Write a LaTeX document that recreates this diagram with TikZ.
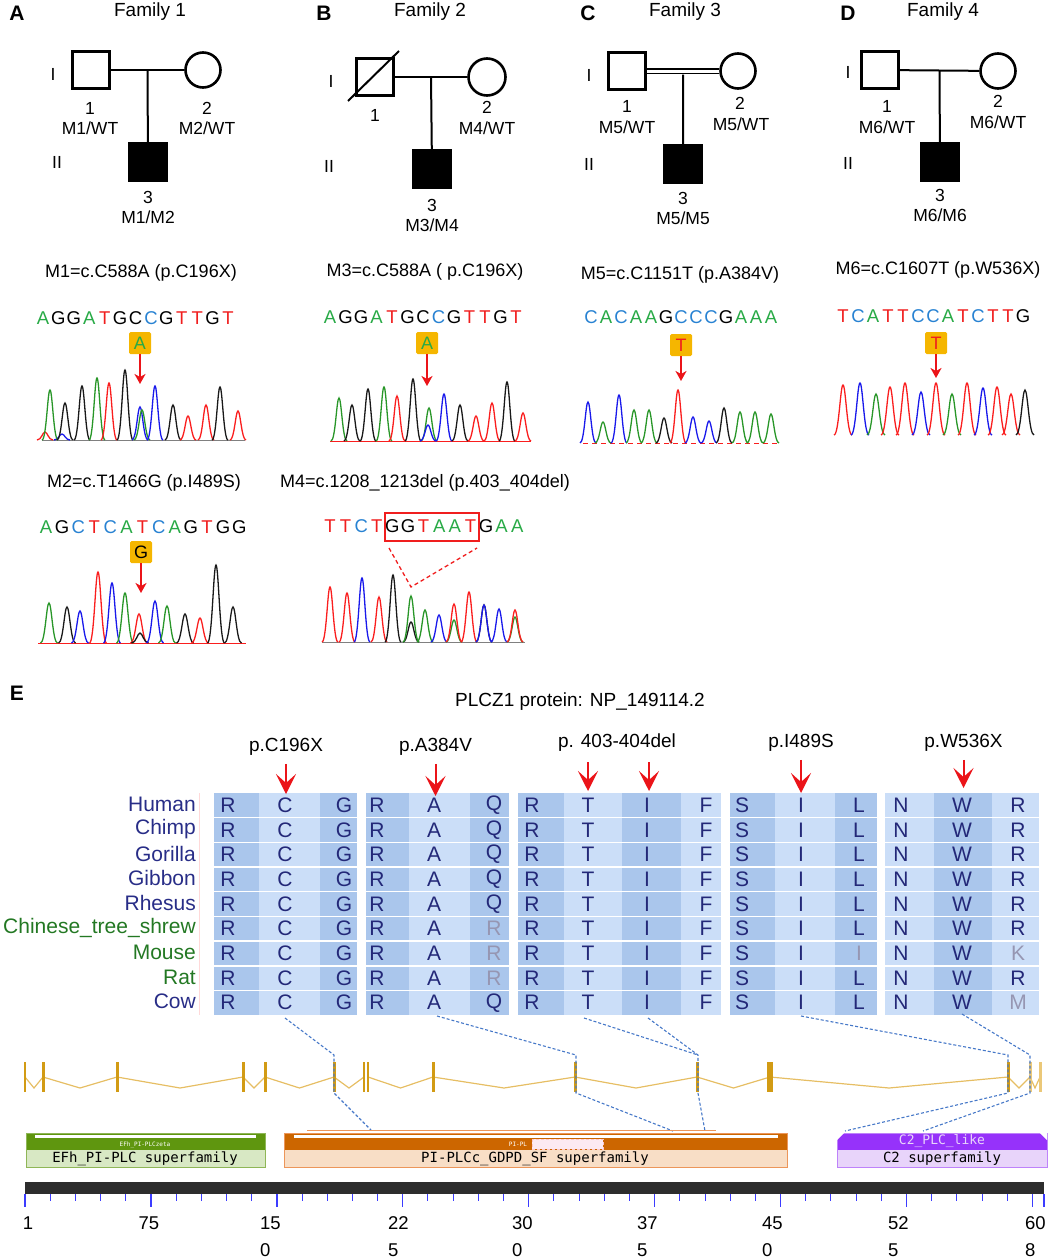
\documentclass[tikz,border=0pt]{standalone}
\usepackage{fontspec}
\setmainfont{Liberation Sans}
\newfontfamily\domfont{DejaVu Sans Mono}
\usetikzlibrary{arrows.meta, calc}

\definecolor{sgr}{RGB}{40,170,70}
\definecolor{sbl}{RGB}{40,130,210}
\definecolor{srd}{RGB}{240,30,30}
\definecolor{kgr}{RGB}{40,150,40}
\definecolor{kbl}{RGB}{25,25,235}
\definecolor{krd}{RGB}{250,30,30}
\definecolor{kbk}{RGB}{25,25,25}
\definecolor{mutbg}{RGB}{245,182,0}
\definecolor{arred}{RGB}{235,20,25}
\definecolor{colDk}{RGB}{170,198,236}
\definecolor{colLt}{RGB}{203,222,248}
\definecolor{aanavy}{RGB}{35,40,120}
\definecolor{spnavy}{RGB}{40,45,135}
\definecolor{spgreen}{RGB}{35,120,35}
\definecolor{aagrey}{RGB}{150,150,178}
\definecolor{linkbl}{RGB}{70,120,200}
\definecolor{exgold}{RGB}{210,155,20}
\definecolor{exlight}{RGB}{235,200,120}
\definecolor{intgold}{RGB}{230,190,100}
\definecolor{efhtop}{RGB}{95,150,15}
\definecolor{efhbot}{RGB}{216,232,196}
\definecolor{plctop}{RGB}{204,102,0}
\definecolor{plcbot}{RGB}{248,222,198}
\definecolor{plcedge}{RGB}{236,150,90}
\definecolor{c2top}{RGB}{150,50,250}
\definecolor{c2bot}{RGB}{232,212,250}
\definecolor{c2edge}{RGB}{190,130,250}
\definecolor{barbk}{RGB}{45,45,45}
\definecolor{tickbl}{RGB}{60,60,255}
\definecolor{pinkbox}{RGB}{252,234,242}

\newcommand\mism{\color{aagrey}}
\def\pkw{8}
% one trace peak: x, height, colour, baseline
\newcommand\pk[4]{%
  \draw[#3, line width=1.3pt] ({#1-\pkw},#4) .. controls ({#1-0.45*\pkw},#4) and ({#1-0.3*\pkw},{#4-#2}) .. ({#1},{#4-#2})
    .. controls ({#1+0.3*\pkw},{#4-#2}) and ({#1+0.45*\pkw},#4) .. ({#1+\pkw},#4);}

\begin{document}
\begin{tikzpicture}[x=1pt, y=-1pt,
    male/.style={draw, line width=2.6pt, minimum width=37pt, minimum height=37pt, inner sep=0pt},
    female/.style={draw, circle, line width=2.6pt, minimum size=35pt, inner sep=0pt},
    patient/.style={fill=black, minimum size=40pt, inner sep=0pt},
    mline/.style={line width=2pt},
    pan/.style={font=\fontsize{21}{24}\selectfont\bfseries, inner sep=0pt},
    fam/.style={font=\fontsize{19}{22}\selectfont, inner sep=0pt},
    pl/.style={font=\fontsize{17.5}{20}\selectfont, inner sep=0pt},
    mt/.style={font=\fontsize{18}{21}\selectfont, inner sep=0pt},
    sq/.style={font=\fontsize{18.5}{21}\selectfont, inner sep=0pt},
    mutbox/.style={fill=mutbg, rounded corners=1.5pt, minimum size=22pt, inner sep=0pt, font=\fontsize{18}{20}\selectfont},
    smarr/.style={arred, line width=2pt, -{Stealth[length=10pt, width=11pt, inset=3pt]}},
    bigarr/.style={arred, line width=2pt, -{Stealth[length=20pt, width=20pt, inset=9pt]}},
    aa/.style={font=\fontsize{21}{24}\selectfont, text=aanavy, inner sep=0pt},
    spec/.style={font=\fontsize{21}{24}\selectfont, inner sep=0pt, anchor=east},
    lnk/.style={linkbl, line width=1.1pt, dash pattern=on 3pt off 2pt},
    intron/.style={intgold, line width=1.2pt},
    domtxt/.style={font=\domfont\fontsize{14}{16}\selectfont, inner sep=0pt},
    domtiny/.style={font=\domfont\fontsize{6}{7}\selectfont, text=white, inner sep=0pt},
    axl/.style={font=\fontsize{18.5}{27}\selectfont, inner sep=0pt, align=left},
  ]
  \useasboundingbox (0,0) rectangle (1052,1258);

  % ---------- pedigrees
  \node[pan] (pA) at (17,13) {A};
  \node[fam] (tA) at (150,12) {Family 1};
  \node[male] (f1a) at (91,70) {};
  \node[female] (f1b) at (203,70) {};
  \node[patient] (f1c) at (148,162) {};
  \coordinate (f1m) at ($(f1a.east)!0.5!(f1b.west)$);
  \draw[mline] (f1a) -- (f1b);
  \draw[mline] (f1m) -- (f1c);
  \node[pl] (g1A) at (53,74) {I};
  \node[pl] (g2A) at (57,162) {II};
  \node[pl] (n1A) at (90,108) {1};
  \node[pl] (m1A) at (90,128) {M1/WT};
  \node[pl] (n2A) at (207,108) {2};
  \node[pl] (m2A) at (207,128) {M2/WT};
  \node[pl] (n3A) at (148,197) {3};
  \node[pl] (m3A) at (148,217) {M1/M2};

  \node[pan] (pB) at (324,13) {B};
  \node[fam] (tB) at (430,12) {Family 2};
  \node[male] (f2a) at (375,77) {};
  \node[female, minimum size=37pt] (f2b) at (487,77) {};
  \node[patient] (f2c) at (432,169) {};
  \coordinate (f2m) at ($(f2a.east)!0.5!(f2b.west)$);
  \draw[mline] (f2a) -- (f2b);
  \draw[mline] (f2m) -- (f2c);
  \draw[mline] ($(f2a)+(-27,24)$) -- ($(f2a)+(24,-26)$);
  \node[pl] (g1B) at (331,81) {I};
  \node[pl] (g2B) at (329,166) {II};
  \node[pl] (n1B) at (375,115) {1};
  \node[pl] (n2B) at (487,107) {2};
  \node[pl] (m2B) at (487,128) {M4/WT};
  \node[pl] (n3B) at (432,205) {3};
  \node[pl] (m3B) at (432,225) {M3/M4};

  \node[pan] (pC) at (588,13) {C};
  \node[fam] (tC) at (685,12) {Family 3};
  \node[male] (f3a) at (627,71) {};
  \node[female] (f3b) at (738,71) {};
  \node[patient] (f3c) at (683,164) {};
  \coordinate (f3m) at ($(f3a.east)!0.5!(f3b.west)$);
  \draw[line width=1.8pt, double, double distance=3pt] (f3a) -- (f3b);
  \draw[mline] ([yshift=-3.5pt]f3m) -- (f3c);
  \node[pl] (g1C) at (589,75) {I};
  \node[pl] (g2C) at (589,164) {II};
  \node[pl] (n1C) at (627,106) {1};
  \node[pl] (m1C) at (627,127) {M5/WT};
  \node[pl] (n2C) at (740,103) {2};
  \node[pl] (m2C) at (741,124) {M5/WT};
  \node[pl] (n3C) at (683,198) {3};
  \node[pl] (m3C) at (683,218) {M5/M5};

  \node[pan] (pD) at (848,13) {D};
  \node[fam] (tD) at (943,12) {Family 4};
  \node[male] (f4a) at (880,70) {};
  \node[female] (f4b) at (998,71) {};
  \node[patient] (f4c) at (940,162) {};
  \coordinate (f4m) at ($(f4a.east)!0.5!(f4b.west)$);
  \draw[mline] (f4a) -- (f4b);
  \draw[mline] (f4m) -- (f4c);
  \node[pl] (g1D) at (848,72) {I};
  \node[pl] (g2D) at (848,163) {II};
  \node[pl] (n1D) at (887,106) {1};
  \node[pl] (m1D) at (887,127) {M6/WT};
  \node[pl] (n2D) at (998,101) {2};
  \node[pl] (m2D) at (998,122) {M6/WT};
  \node[pl] (n3D) at (940,195) {3};
  \node[pl] (m3D) at (940,215) {M6/M6};

  % ---------- mutations and traces
  \node[mt] (mu1) at (141,273) {M1=c.C588A (p.C196X)};
  \node[mt] (mu3) at (425,272) {M3=c.C588A ( p.C196X)};
  \node[mt] (mu5) at (680,275) {M5=c.C1151T (p.A384V)};
  \node[mt] (mu6) at (938,270) {M6=c.C1607T (p.W536X)};
  \node[mt] (mu2) at (144,483) {M2=c.T1466G (p.I489S)};
  \node[mt] (mu4) at (425,483) {M4=c.1208\_1213del (p.403\_404del)};

  \foreach \sc/\scol [count=\i from 0] in {A/sgr,G/black,G/black,A/sgr,T/srd,G/black,C/black,C/sbl,G/black,T/srd,T/srd,G/black,T/srd}
    \node[sq, text=\scol] (sa\i) at ({43+15.42*\i},318) {\sc};
  \foreach \sc/\scol [count=\i from 0] in {A/sgr,G/black,G/black,A/sgr,T/srd,G/black,C/black,C/sbl,G/black,T/srd,T/srd,G/black,T/srd}
    \node[sq, text=\scol] (sb\i) at ({330+15.5*\i},317) {\sc};
  \foreach \sc/\scol [count=\i from 0] in {C/sbl,A/sgr,C/sbl,A/sgr,A/sgr,G/black,C/sbl,C/sbl,C/sbl,G/black,A/sgr,A/sgr,A/sgr}
    \node[sq, text=\scol] (sc\i) at ({591+15*\i},317) {\sc};
  \foreach \sc/\scol [count=\i from 0] in {T/srd,C/sbl,A/sgr,T/srd,T/srd,C/sbl,C/sbl,A/sgr,T/srd,C/sbl,T/srd,T/srd,G/black}
    \node[sq, text=\scol] (sd\i) at ({843+15*\i},316) {\sc};
  \foreach \sc/\scol [count=\i from 0] in {A/sgr,G/black,C/sbl,T/srd,C/sbl,A/sgr,T/srd,C/sbl,A/sgr,G/black,T/srd,G/black,G/black}
    \node[sq, text=\scol] (se\i) at ({46+16.1*\i},527) {\sc};
  \foreach \sc/\scol [count=\i from 0] in {T/srd,T/srd,C/sbl,T/srd,G/black,G/black,T/srd,A/sgr,A/sgr,T/srd,G/black,A/sgr,A/sgr}
    \node[sq, text=\scol] (sf\i) at ({330+15.6*\i},526) {\sc};

  \node[mutbox] (bxA) at (140,343) {\textcolor{sgr}{A}};
  \node[mutbox] (bxB) at (427,343) {\textcolor{sgr}{A}};
  \node[mutbox] (bxC) at (681,345) {\textcolor{srd}{T}};
  \node[mutbox] (bxD) at (936,343) {\textcolor{srd}{T}};
  \node[mutbox] (bxE) at (141,552) {G};
  \coordinate (tpA) at (140,384);
  \coordinate (tpB) at (427,386);
  \coordinate (tpC) at (681,381);
  \coordinate (tpD) at (936,378);
  \coordinate (tpE) at (141,593);
  \draw[smarr] (bxA) -- (tpA);
  \draw[smarr] (bxB) -- (tpB);
  \draw[smarr] (bxC) -- (tpC);
  \draw[smarr] (bxD) -- (tpD);
  \draw[smarr] (bxE) -- (tpE);

  \node[draw=srd, line width=2pt, minimum width=94pt, minimum height=28pt] (delbx) at (432,527) {};
  \coordinate (dlA) at (389,548);
  \coordinate (dlB) at (477,548);
  \coordinate (dlC) at (411,587);
  \draw[srd, line width=1.3pt, dash pattern=on 4pt off 3pt] (dlA) -- (dlC) -- (dlB);

  % traces
  \draw[gray, line width=0.8pt] (42,440) -- (245,440);
  \foreach \px/\ph/\pc in {45/8/krd, 62/6/kbl, 50/50/kgr, 65/37/kbk, 82/54/kbk, 97/62/kgr, 109/57/krd, 125/70/kbk, 140/33/kbl, 142/30/kgr, 155/54/kbl, 173/35/kbk, 188/24/krd, 206/35/krd, 220/53/kbk, 238/29/krd}
    {\pk{\px}{\ph}{\pc}{440}}
  \draw[krd, line width=0.8pt] (330,441) -- (531,441);
  \foreach \px/\ph/\pc in {339/43/kgr, 352/36/kbk, 368/52/kbk, 384/54/kgr, 397/45/krd, 413/62/kbk, 429/33/kgr, 428/16/kbl, 444/47/kbl, 460/36/kbk, 476/25/krd, 492/38/krd, 507/59/kbk, 523/28/krd}
    {\pk{\px}{\ph}{\pc}{441}}
  \draw[krd, line width=0.8pt, dash pattern=on 5pt off 4pt] (583,443) -- (780,443);
  \foreach \px/\ph/\pc in {588/41/kbl, 603/21/kgr, 619/48/kbl, 634/33/kgr, 649/33/kgr, 664/25/kbk, 678/53/krd, 693/26/kbl, 709/22/kbl, 724/35/kbk, 740/31/kgr, 755/31/kgr, 771/29/kgr}
    {\pk{\px}{\ph}{\pc}{443}}
  \def\pkw{9}
  \foreach \px/\ph/\pc in {843/50/krd, 860/52/kbl, 876/41/kgr, 890/48/krd, 905/52/krd, 921/43/kbl, 936/52/krd, 952/41/kgr, 967/52/krd, 983/47/kbl, 997/48/krd, 1011/41/krd, 1025/45/kbk}
    {\pk{\px}{\ph}{\pc}{435}}
  \def\pkw{8.5}
  \draw[krd, line width=0.8pt] (38,643) -- (246,643);
  \foreach \px/\ph/\pc in {49/40/kgr, 67/36/kbk, 80/32/kbl, 98/71/krd, 112/60/kbl, 125/50/kgr, 139/29/krd, 140/10/kbk, 155/42/kbl, 167/37/kgr, 185/29/kbk, 200/25/krd, 216/78/kbk, 233/36/kbk}
    {\pk{\px}{\ph}{\pc}{643}}
  \def\pkw{8}
  \draw[gray, line width=0.8pt] (322,642) -- (525,642);
  \foreach \px/\ph/\pc in {330/55/krd, 347/49/krd, 362/64/kbl, 379/45/krd, 393/67/kbk, 411/20/kbk, 411/46/kgr, 425/32/kgr, 439/27/kbl, 454/22/kgr, 454/38/krd, 469/50/krd, 484/37/kbk, 484/37/kbl, 499/33/kbl, 515/25/kgr, 515/32/krd}
    {\pk{\px}{\ph}{\pc}{642}}

  % ---------- panel E: alignment
  \node[pan] (pE) at (17,693) {E};
  \node[fam] (tE) at (580,702) {PLCZ1 protein: NP\_149114.2};

  \foreach \xa/\xb/\cc in {214/259/colDk, 259/320/colLt, 320/357/colDk, 366/409/colDk, 409/470/colLt, 470/509/colDk,
      518/564/colDk, 564/622/colLt, 622/681/colDk, 681/721/colLt, 730/775/colDk, 775/835/colLt, 835/877/colDk,
      885/934/colLt, 934/992/colDk, 992/1039/colLt}
    \fill[\cc] (\xa,793) rectangle (\xb,1015);
  \foreach \k in {1,...,8}
    \draw[white, line width=1.6pt] (210,{793+24.67*\k}) -- (1042,{793+24.67*\k});
  \draw[red!15] (199,793) -- (199,1015);

  \foreach \sp/\spc [count=\r from 0] in {Human/spnavy, Chimp/spnavy, Gorilla/spnavy, Gibbon/spnavy, Rhesus/spnavy,
      Chinese\_tree\_shrew/spgreen, Mouse/spgreen, Rat/spgreen, Cow/spnavy}
    \node[spec, text=\spc] (sp\r) at (196,{804.3+24.67*\r}) {\sp};

  \foreach \lx/\lt in {228/R, 285/C, 344/G, 377/R, 434/A, 532/R, 588/T, 647/I, 706/F, 742/S, 801/I, 901/N, 962/W}
    \foreach \r in {0,...,8}
      \node[aa] (aa\lx-\r) at (\lx,{805.3+24.67*\r}) {\lt};
  \foreach \lt [count=\r from 0] in {Q,Q,Q,Q,Q,{\mism R},{\mism R},{\mism R},Q}
    \node[aa] (aq\r) at (494,{805.3+24.67*\r}) {\lt};
  \foreach \lt [count=\r from 0] in {L,L,L,L,L,L,{\mism I},L,L}
    \node[aa] (al\r) at (859,{805.3+24.67*\r}) {\lt};
  \foreach \lt [count=\r from 0] in {R,R,R,R,R,R,{\mism K},R,{\mism M}}
    \node[aa] (ar\r) at (1018,{805.3+24.67*\r}) {\lt};

  \node[fam] (vC196) at (286,747) {p.C196X};
  \node[fam] (vA384) at (435.5,747) {p.A384V};
  \node[fam] (vDel) at (617,743) {p. 403-404del};
  \node[fam] (vI489) at (801,743) {p.I489S};
  \node[fam] (vW536) at (963.5,743) {p.W536X};
  \coordinate (hC196) at (286,794);
  \coordinate (hA384) at (435.5,796);
  \coordinate (hDelA) at (588,791);
  \coordinate (hDelB) at (649,791);
  \coordinate (hI489) at (801,793);
  \coordinate (hW536) at (963.5,788);
  \draw[bigarr] ([yshift=-8pt]vC196.south) -- (hC196);
  \draw[bigarr] ([yshift=-8pt]vA384.south) -- (hA384);
  \draw[bigarr] (588,762) -- (hDelA);
  \draw[bigarr] (649,762) -- (hDelB);
  \draw[bigarr] ([yshift=-8pt]vI489.south) -- (hI489);
  \draw[bigarr] ([yshift=-8pt]vW536.south) -- (hW536);

  % ---------- gene structure
  \foreach \ea/\eb in {25/43, 43/117, 117/243, 243/265, 265/334, 334/364, 368/433, 433/575, 575/697, 697/770, 770/1008, 1008/1030, 1030/1040}
    \draw[intron] (\ea,1077) -- ({(\ea+\eb)/2},1088) -- (\eb,1077);
  \foreach \ex/\ew/\ec in {25/2/exgold, 43/3/exgold, 117/3/exgold, 243/3/exgold, 265/3/exgold, 334/3/exgold, 364/2/exgold, 368/2/exgold,
      433/3/exgold, 575/3/exgold, 697/3/exgold, 770/6/exgold, 1008/3/exgold, 1030/3/exlight, 1040/3/exlight}
    \fill[\ec] ({\ex-\ew/2},1062) rectangle ({\ex+\ew/2},1092);

  \coordinate (qC196) at (285,1018);
  \coordinate (qA384) at (437,1016);
  \coordinate (qDelA) at (584,1018);
  \coordinate (qDelB) at (648,1018);
  \coordinate (qI489) at (801,1016);
  \coordinate (qW536) at (962,1014);
  \coordinate (x6t) at (334,1055);   \coordinate (x6b) at (334,1093);
  \coordinate (x10t) at (576,1055);  \coordinate (x10b) at (576,1093);
  \coordinate (x11t) at (698,1055);  \coordinate (x11b) at (698,1093);
  \coordinate (x13t) at (1008,1055); \coordinate (x13b) at (1008,1093);
  \coordinate (x14t) at (1030,1055); \coordinate (x14b) at (1030,1093);
  \coordinate (dC196) at (371,1130);
  \coordinate (dA384) at (673,1131);
  \coordinate (dDel) at (705,1131);
  \coordinate (dI489) at (845,1131);
  \coordinate (dW536) at (923,1131);
  \draw[lnk] (qC196) -- (x6t) -- (x6b) -- (dC196);
  \draw[lnk] (qA384) -- (x10t) -- (x10b) -- (dA384);
  \draw[lnk] (qDelA) -- (x11t);
  \draw[lnk] (qDelB) -- (x11t) -- (x11b) -- (dDel);
  \draw[lnk] (qI489) -- (x13t) -- (x13b) -- (dI489);
  \draw[lnk] (qW536) -- (x14t) -- (x14b) -- (dW536);

  % ---------- domains
  \fill[efhtop] (26,1133) rectangle (265,1150);
  \fill[efhbot] (26,1150) rectangle (265,1167);
  \draw[efhtop!70, line width=1pt] (26,1133) rectangle (265,1167);
  \fill[white] (35,1135) rectangle (256,1138);
  \node[domtiny] (efhs) at (145,1144.5) {EFh\_PI-PLCzeta};
  \node[domtxt] (efh) at (145,1158.5) {EFh\_PI-PLC superfamily};

  \draw[plcedge, line width=1.3pt] (307,1130.5) -- (716,1130.5);
  \fill[plctop] (284,1133) rectangle (787,1150);
  \fill[plcbot] (284,1150) rectangle (787,1167);
  \draw[plcedge, line width=1pt] (284,1133) rectangle (787,1167);
  \fill[white] (294,1135) rectangle (778,1138);
  \draw[pinkbox!50!red!40, fill=pinkbox, line width=0.8pt, dash pattern=on 3pt off 2pt] (532,1139) rectangle (603,1149);
  \node[domtiny] (plcs) at (518,1144.5) {PI-PL};
  \node[domtxt] (plc) at (535,1158.5) {PI-PLCc\_GDPD\_SF superfamily};

  \fill[c2top] (837,1133) rectangle (1047,1150);
  \fill[c2bot] (837,1150) rectangle (1047,1167);
  \draw[c2edge, line width=1pt] (837,1133) rectangle (1047,1167);
  \fill[white] (837,1133) -- (844,1133) -- (837,1140) -- cycle;
  \fill[white] (1047,1133) -- (1040,1133) -- (1047,1140) -- cycle;
  \node[domtxt, text=c2bot, font=\domfont\fontsize{13}{15}\selectfont] (c2s) at (942,1141.5) {C2\_PLC\_like};
  \node[domtxt] (c2) at (942,1158.5) {C2 superfamily};

  % ---------- ruler
  \fill[barbk] (25,1182) rectangle (1044,1194);
  \foreach \t in {0,...,40} {
    \pgfmathsetmacro\tx{25+25.185*\t}
    \pgfmathtruncatemacro\tm{mod(\t,5)}
    \ifnum\tm=0
      \draw[tickbl, line width=1.4pt] (\tx,1194) -- (\tx,1207);
    \else
      \draw[tickbl, line width=1pt] (\tx,1194) -- (\tx,1201);
    \fi
  }
  \draw[tickbl, line width=1.4pt] (1044,1194) -- (1044,1207);
  \node[axl] (r1) at (28,1223) {1};
  \node[axl] (r75) at (149,1223) {75};
  \node[axl, anchor=north west] (r150) at (260,1216.5) {15\\0};
  \node[axl, anchor=north west] (r225) at (388,1216.5) {22\\5};
  \node[axl, anchor=north west] (r300) at (512,1216.5) {30\\0};
  \node[axl, anchor=north west] (r375) at (637,1216.5) {37\\5};
  \node[axl, anchor=north west] (r450) at (762,1216.5) {45\\0};
  \node[axl, anchor=north west] (r525) at (888,1216.5) {52\\5};
  \node[axl, anchor=north west] (r608) at (1025,1216.5) {60\\8};
\end{tikzpicture}
\end{document}
